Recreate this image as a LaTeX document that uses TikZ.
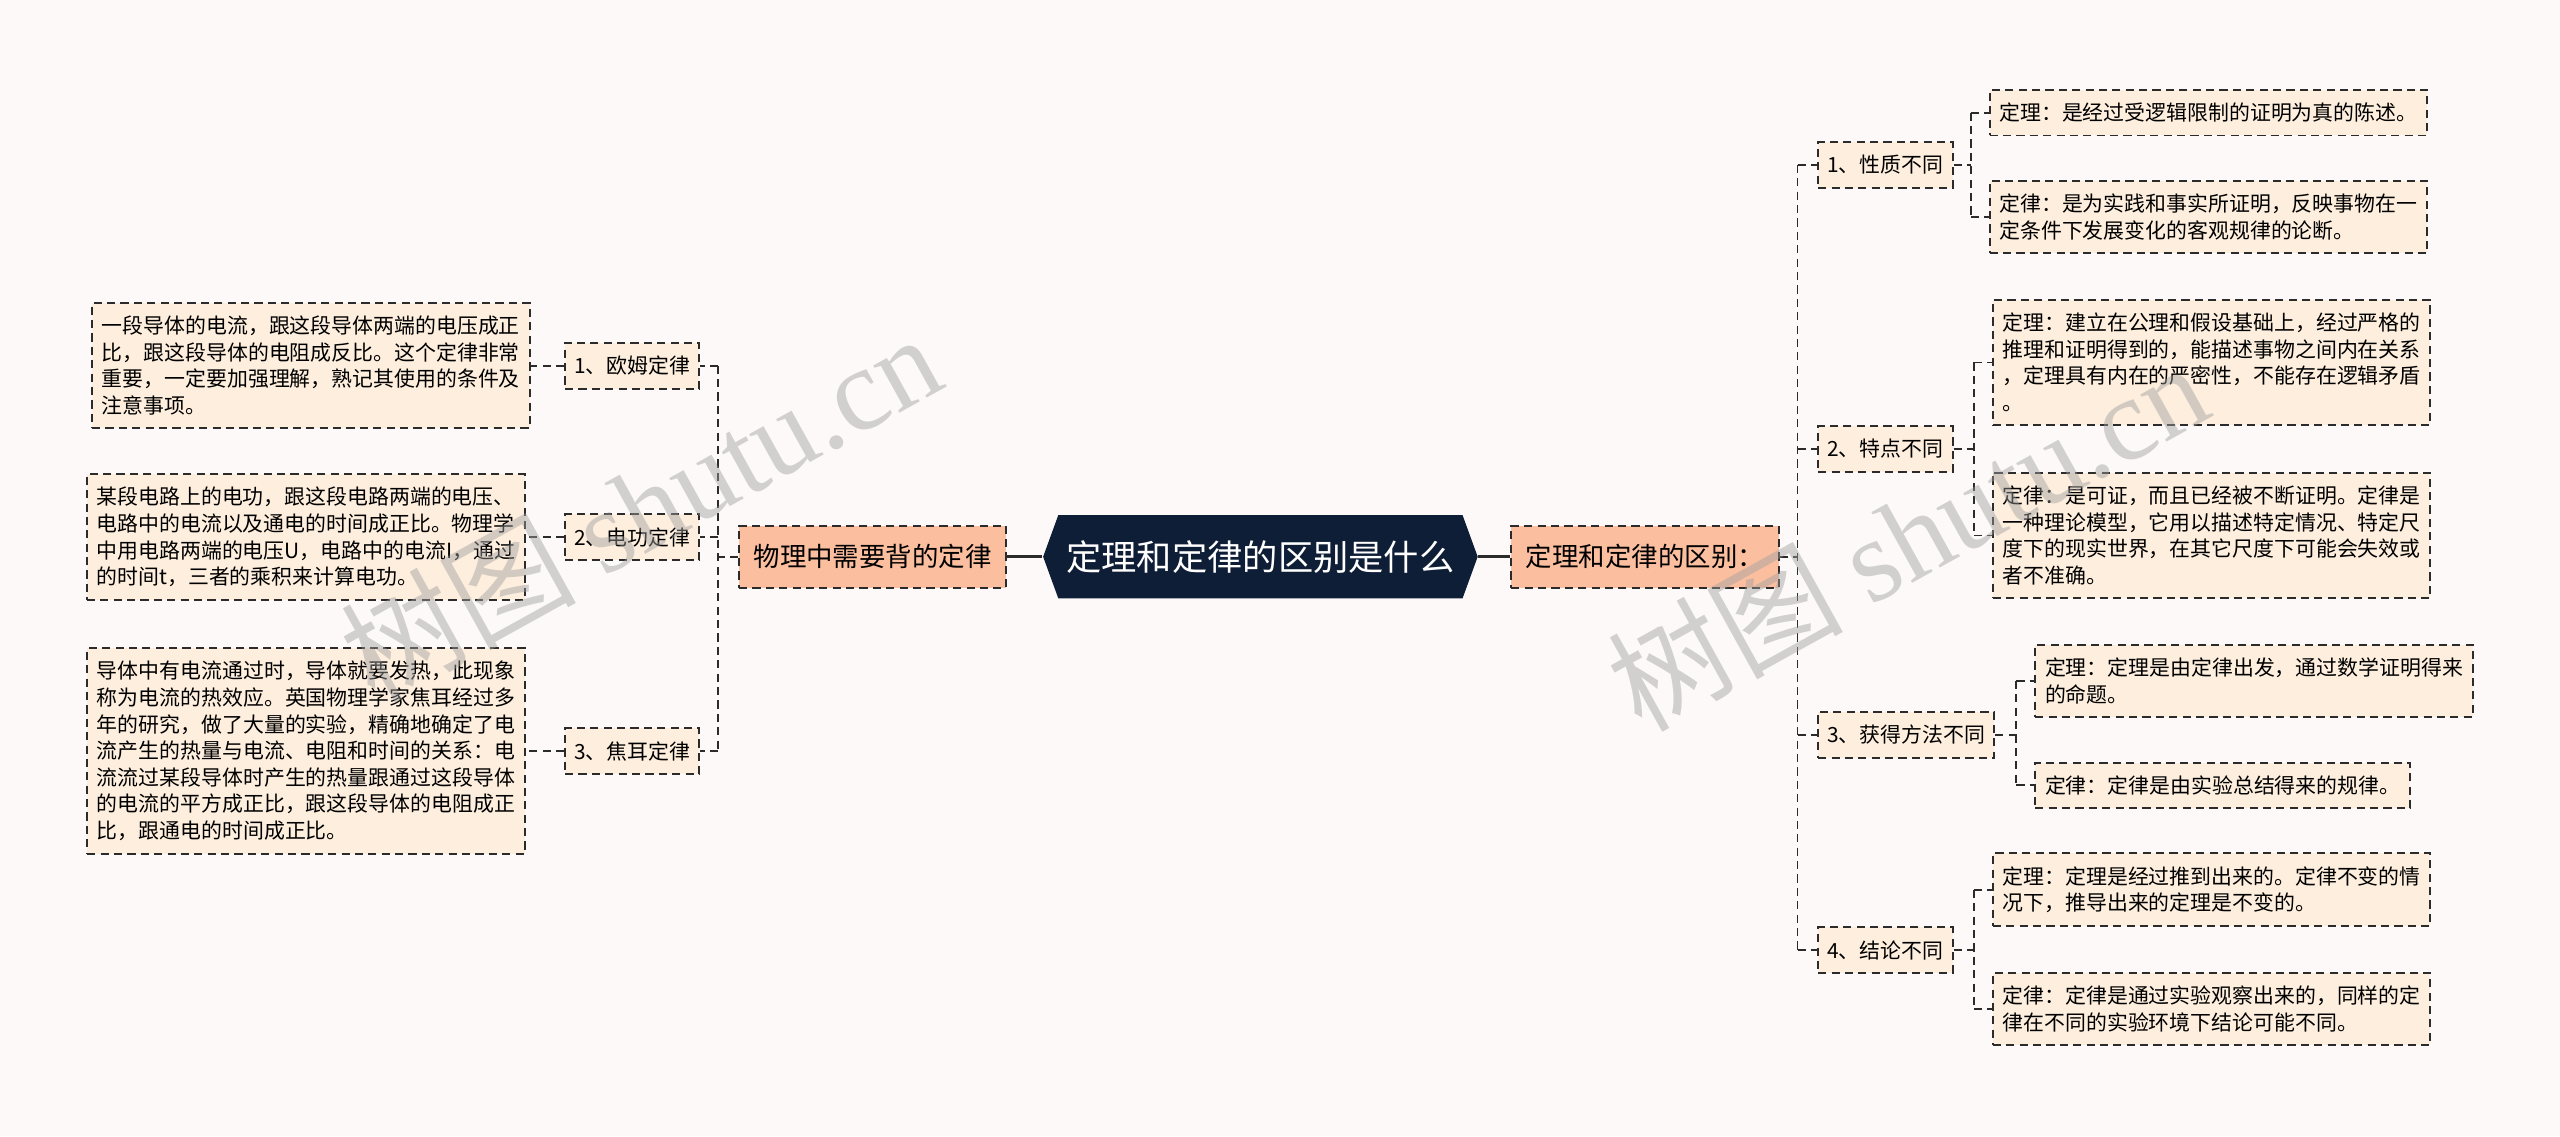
\documentclass[tikz,border=0pt]{standalone}
\usepackage{fontspec}
\usepackage{xcolor}
\usepackage{tikz}
\usetikzlibrary{calc, shapes.symbols, positioning}

\newfontfamily\cjk{Noto Sans CJK SC}
\newfontfamily\wmserif{Liberation Serif}

\definecolor{bgpink}{HTML}{FCF9F8}
\definecolor{leaffill}{HTML}{FDEEDD}
\definecolor{mainfill}{HTML}{FBBF9F}
\definecolor{rootnavy}{HTML}{0F1E37}
\definecolor{edgegray}{HTML}{2B2B2B}

\tikzset{
  link/.style={draw=edgegray, line width=0.55pt, dash pattern=on 2.5pt off 1.6pt},
  boxline/.style={draw=edgegray, line width=0.6pt, dash pattern=on 2.5pt off 1.6pt},
  leafbox/.style={boxline, fill=leaffill, font=\cjk\fontsize{6.4pt}{8.15pt}\selectfont,
    align=left, inner xsep=3pt, inner ysep=4pt},
  subbox/.style={boxline, fill=leaffill, font=\cjk\fontsize{6.4pt}{8.15pt}\selectfont,
    inner xsep=2.8pt, minimum height=14pt},
  mainbox/.style={boxline, fill=mainfill, font=\cjk\fontsize{8.1pt}{10pt}\selectfont,
    inner xsep=4.5pt, minimum height=19pt},
  rootbox/.style={signal, signal to=west and east, signal pointer angle=140,
    fill=rootnavy, text=white, font=\cjk\fontsize{10.8pt}{13pt}\selectfont,
    minimum height=25.5pt, inner xsep=2.5pt},
  rootlink/.style={draw=edgegray, line width=0.9pt},
  wmark/.style={text=gray!75, opacity=0.45, rotate=29, inner sep=0pt}
}

\begin{document}
\begin{tikzpicture}[>=latex, x=0.5pt, y=-0.5pt]
    % 背景
    \fill[bgpink] (0,0) rectangle (1568,696);
    \useasboundingbox (0,0) rectangle (1568,696);

    % 中心与两侧主题
    \node[rootbox] (root) at (772,341) {定理和定律的区别是什么};
    \node[mainbox, anchor=east] (lmain) at (617,341) {物理中需要背的定律};
    \node[mainbox, anchor=west] (rmain) at (925,341) {定理和定律的区别：};
    \draw[rootlink] (lmain.east) -- (root.west);
    \draw[rootlink] (rmain.west) -- (root.east);

    % 左侧：三个定律
    \node[subbox, anchor=east] (ohm) at (429,224) {1、欧姆定律};
    \node[subbox, anchor=east] (work) at (429,329) {2、电功定律};
    \node[subbox, anchor=east] (joule) at (429,460) {3、焦耳定律};

    \node[leafbox, anchor=east] (ohmtxt) at (325,224)
      {一段导体的电流，跟这段导体两端的电压成正\\比，跟这段导体的电阻成反比。这个定律非常\\重要，一定要加强理解，熟记其使用的条件及\\注意事项。};
    \node[leafbox, anchor=east] (worktxt) at (322,329)
      {某段电路上的电功，跟这段电路两端的电压、\\电路中的电流以及通电的时间成正比。物理学\\中用电路两端的电压U，电路中的电流I，通过\\的时间t，三者的乘积来计算电功。};
    \node[leafbox, anchor=east] (jouletxt) at (322,460)
      {导体中有电流通过时，导体就要发热，此现象\\称为电流的热效应。英国物理学家焦耳经过多\\年的研究，做了大量的实验，精确地确定了电\\流产生的热量与电流、电阻和时间的关系：电\\流流过某段导体时产生的热量跟通过这段导体\\的电流的平方成正比，跟这段导体的电阻成正\\比，跟通电的时间成正比。};

    \coordinate (ltrunk) at (440,341);
    \draw[link] (ltrunk |- ohm.east) -- (ltrunk |- joule.east);
    \draw[link] (lmain.west) -- (ltrunk);
    \foreach \n in {ohm, work, joule} {
        \draw[link] (ltrunk |- \n.east) -- (\n.east);
        \draw[link] (\n.west) -- (\n txt.east);
    }

    % 右侧：四点区别
    \node[subbox, anchor=west] (xz) at (1113,101) {1、性质不同};
    \node[subbox, anchor=west] (td) at (1113,275) {2、特点不同};
    \node[subbox, anchor=west] (hd) at (1113,450) {3、获得方法不同};
    \node[subbox, anchor=west] (jl) at (1113,582) {4、结论不同};

    \node[leafbox, anchor=west] (xza) at (1218,69) {定理：是经过受逻辑限制的证明为真的陈述。};
    \node[leafbox, anchor=west] (xzb) at (1218,133)
      {定律：是为实践和事实所证明，反映事物在一\\定条件下发展变化的客观规律的论断。};
    \node[leafbox, anchor=west] (tda) at (1220,222)
      {定理：建立在公理和假设基础上，经过严格的\\推理和证明得到的，能描述事物之间内在关系\\，定理具有内在的严密性，不能存在逻辑矛盾\\。};
    \node[leafbox, anchor=west] (tdb) at (1220,328)
      {定律：是可证，而且已经被不断证明。定律是\\一种理论模型，它用以描述特定情况、特定尺\\度下的现实世界，在其它尺度下可能会失效或\\者不准确。};
    \node[leafbox, anchor=west] (hda) at (1246,417)
      {定理：定理是由定律出发，通过数学证明得来\\的命题。};
    \node[leafbox, anchor=west] (hdb) at (1246,481) {定律：定律是由实验总结得来的规律。};
    \node[leafbox, anchor=west] (jla) at (1220,545)
      {定理：定理是经过推到出来的。定律不变的情\\况下，推导出来的定理是不变的。};
    \node[leafbox, anchor=west] (jlb) at (1220,618)
      {定律：定律是通过实验观察出来的，同样的定\\律在不同的实验环境下结论可能不同。};

    \coordinate (rtrunk) at (1101,341);
    \draw[link] (rtrunk |- xz.west) -- (rtrunk |- jl.west);
    \draw[link] (rmain.east) -- (rtrunk);
    \foreach \n in {xz, td, hd, jl}
        \draw[link] (rtrunk |- \n.west) -- (\n.west);

    % 右侧二级分支
    \foreach \n/\jx in {xz/1207, td/1209, hd/1235, jl/1209} {
        \coordinate (\n j) at (\jx,0);
        \draw[link] (\n j |- \n a.west) -- (\n j |- \n b.west);
        \draw[link] (\n.east) -- (\n j |- \n.east);
        \draw[link] (\n j |- \n a.west) -- (\n a.west);
        \draw[link] (\n j |- \n b.west) -- (\n b.west);
    }

    % 水印
    \node[wmark] (wmleft) at (392,310) {\fontsize{36pt}{40pt}\selectfont\cjk 树图 \wmserif shutu.cn};
    \node[wmark] (wmright) at (1168,328) {\fontsize{36pt}{40pt}\selectfont\cjk 树图 \wmserif shutu.cn};
\end{tikzpicture}
\end{document}
